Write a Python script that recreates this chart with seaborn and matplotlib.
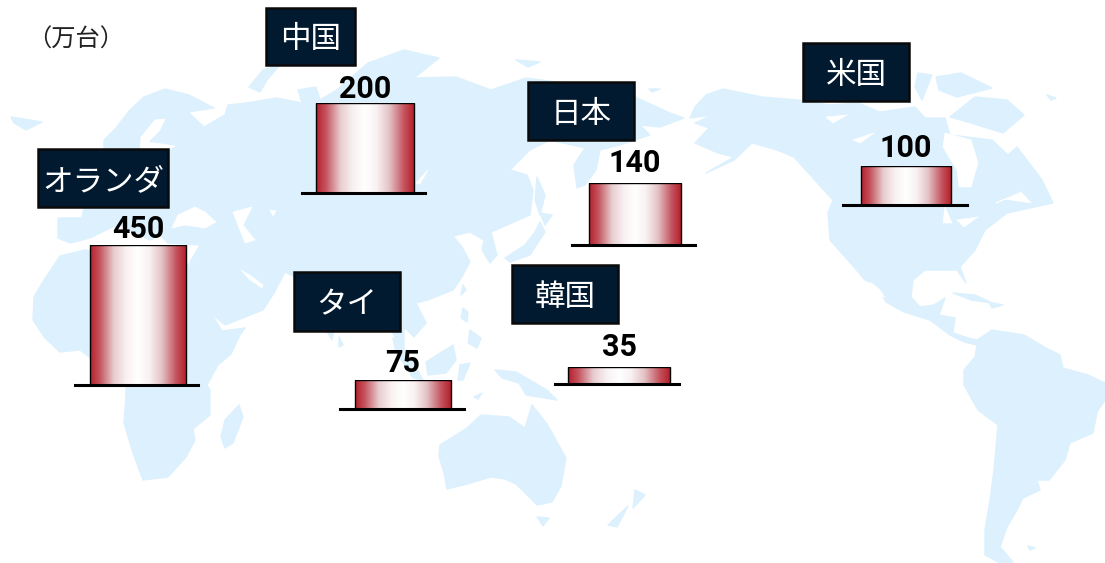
import numpy as np
import pandas as pd
import seaborn as sns
import matplotlib.pyplot as plt
from matplotlib.colors import LinearSegmentedColormap
from matplotlib.patches import Rectangle

sns.set_theme(style="white")
plt.rcParams['font.family'] = ['Noto Sans CJK JP', 'DejaVu Sans']

W, H = 1105, 563

# chart values
countries = ['オランダ', '中国', '日本', '米国', 'タイ', '韓国']
units = [450, 200, 140, 100, 75, 35]
unit_label = '（万台）'

# layout of the small bars, in pixels of the picture
base_left = [75, 302, 572, 843, 340, 555]
base_right = [198, 425, 695, 967, 464, 679]
base_y = [385, 193, 245, 205, 409, 384]
bar_left = [90, 316, 589, 861, 355, 568]
bar_right = [186, 414, 681, 951, 451, 670]
bar_top = [245, 103, 183, 166, 380, 367]
label_gap = [8, 5, 11, 10, 8, 12]
box_x0 = [38, 266, 528, 803, 294, 512]
box_x1 = [168, 355, 634, 909, 400, 618]
box_y0 = [149, 8, 82, 43, 272, 265]
box_y1 = [207, 65, 140, 101, 331, 323]

LAND = '#DCF1FD'
NAVY = '#021A30'

# background map outlines, traced by hand
eurasia = [(104, 140), (116, 128), (130, 110), (144, 97), (165, 89), (189, 95), (214, 108), (188, 112),
           (204, 127), (225, 115), (228, 105), (246, 103), (277, 98), (302, 103), (298, 90), (316, 87),
           (320, 100), (337, 90), (368, 63), (404, 50), (439, 58), (414, 78), (456, 77), (491, 90),
           (526, 78), (580, 85), (635, 97), (670, 113), (684, 118), (660, 127), (640, 125), (650, 135),
           (620, 145), (600, 150), (596, 170), (585, 185), (577, 188), (574, 165), (585, 148), (550, 140),
           (530, 150), (510, 170), (527, 175), (533, 190), (530, 215), (491, 232), (497, 255), (490, 263),
           (482, 250), (484, 240), (470, 232), (453, 236), (462, 247), (470, 262), (460, 280), (453, 290),
           (428, 300), (416, 303), (426, 323), (414, 337), (404, 327), (404, 353), (412, 377), (405, 360),
           (393, 333), (385, 300), (340, 300), (332, 340), (326, 330), (310, 285), (285, 272), (274, 293),
           (263, 310), (225, 325), (211, 313), (193, 280), (190, 262), (200, 245), (168, 243), (160, 235),
           (150, 240), (120, 225), (110, 228), (90, 238), (70, 243), (58, 238), (58, 218), (82, 218),
           (84, 207), (104, 148)]
africa = [(85, 250), (60, 256), (44, 280), (34, 297), (33, 320), (45, 338), (60, 352), (80, 350), (126, 385),
          (126, 395), (124, 423), (133, 453), (143, 480), (168, 477), (186, 457), (195, 440), (193, 429),
          (210, 415), (210, 390), (207, 385), (218, 365), (231, 354), (240, 335), (245, 328), (222, 331),
          (200, 295), (188, 264), (150, 258)]
america = [(695, 107), (706, 95), (723, 89), (762, 97), (798, 100), (830, 105), (858, 103), (880, 112),
           (915, 107), (925, 118), (945, 118), (950, 135), (992, 140), (1008, 155), (1017, 147), (1042, 180),
           (1053, 203), (1007, 213), (985, 230), (975, 250), (960, 267), (966, 283), (957, 270), (925, 270),
           (913, 280), (911, 297), (920, 307), (934, 305), (945, 298), (939, 315), (955, 318), (953, 333),
           (968, 338), (977, 340), (992, 330), (1024, 335), (1046, 348), (1060, 355), (1063, 368), (1088, 375),
           (1105, 383), (1105, 400), (1097, 412), (1093, 433), (1070, 443), (1065, 460), (1049, 480),
           (1037, 480), (1040, 490), (1023, 498), (1017, 510), (1007, 527), (1000, 547), (1013, 562),
           (1000, 563), (985, 555), (985, 530), (990, 500), (994, 470), (998, 425), (978, 410), (964, 385),
           (964, 370), (975, 357), (977, 345), (964, 342), (950, 335), (930, 320), (904, 312), (886, 302),
           (876, 285), (865, 280), (854, 267), (830, 240), (828, 213), (833, 200), (812, 177), (794, 157),
           (777, 150), (752, 143), (734, 160), (706, 173), (734, 157), (718, 153), (695, 143), (709, 128),
           (695, 123), (713, 115), (690, 118)]
australia = [(440, 445), (467, 428), (481, 415), (509, 417), (525, 428), (532, 405), (547, 424), (566, 458),
             (561, 486), (552, 502), (537, 505), (516, 484), (505, 479), (491, 477), (467, 484), (447, 489),
             (444, 473), (439, 456)]
islands = [
    [(11, 117), (42, 122), (26, 130), (14, 123)],
    [(239, 405), (243, 417), (233, 443), (225, 448), (221, 437), (225, 420)],
    [(249, 87), (263, 70), (280, 65), (267, 80), (260, 92)],
    [(516, 60), (540, 62), (528, 67)],
    [(649, 89), (660, 89), (652, 92)],
    [(537, 177), (545, 195), (540, 215), (535, 200)],
    [(540, 213), (552, 215), (545, 225)],
    [(540, 222), (545, 232), (530, 255), (510, 262), (505, 258), (525, 245), (535, 232)],
    [(339, 337), (343, 345), (339, 347)],
    [(463, 285), (466, 290), (461, 295)],
    [(463, 308), (468, 312), (467, 322), (461, 318)],
    [(470, 330), (481, 338), (477, 348), (468, 343)],
    [(426, 362), (453, 345), (456, 360), (446, 373), (428, 375)],
    [(460, 365), (470, 363), (463, 380), (458, 380)],
    [(393, 338), (410, 357), (423, 380), (414, 378), (396, 353)],
    [(495, 370), (516, 372), (547, 390), (557, 400), (526, 395), (519, 383), (502, 378)],
    [(474, 397), (482, 393), (478, 399)],
    [(537, 517), (549, 518), (543, 526)],
    [(635, 490), (645, 495), (633, 508)],
    [(628, 506), (617, 527), (608, 525)],
    [(950, 117), (975, 97), (1007, 100), (1024, 115), (1003, 133), (971, 123)],
    [(936, 77), (961, 73), (992, 88), (957, 97), (939, 90)],
    [(918, 73), (932, 75), (922, 100), (915, 87)],
    [(1047, 95), (1056, 98), (1051, 100)],
    [(953, 293), (975, 295), (992, 303), (971, 300)],
    [(989, 302), (1003, 305), (992, 308)],
    [(1028, 546), (1035, 548), (1030, 550)],
]
waters = [
    [(140, 150), (141, 137), (155, 120), (165, 119), (160, 130), (148, 142), (175, 146), (168, 150)],
    [(172, 228), (178, 215), (195, 207), (205, 212), (216, 222), (205, 228), (185, 225)],
    [(233, 212), (252, 207), (243, 225), (255, 240), (245, 243), (238, 225)],
    [(270, 210), (276, 211), (273, 216)],
    [(416, 183), (428, 170), (420, 184)],
    [(241, 270), (249, 279), (262, 288), (263, 285), (251, 276)],
    [(945, 133), (971, 140), (978, 163), (971, 187), (959, 187), (957, 170), (943, 147)],
    [(945, 207), (952, 223), (943, 223)],
    [(957, 220), (978, 217), (964, 227)],
    [(826, 117), (847, 115), (833, 123)],
    [(853, 140), (874, 133), (860, 143)],
    [(996, 203), (1021, 192), (1031, 203), (1005, 199)],
    [(870, 282), (880, 290), (885, 298), (874, 290)],
]

fig = plt.figure(figsize=(W / 100, H / 100), dpi=100)
ax = fig.add_axes([0, 0, 1, 1])
ax.set_xlim(0, W)
ax.set_ylim(H, 0)
ax.axis('off')

for shape in [eurasia, africa, america, australia] + islands:
    xs, ys = zip(*shape)
    ax.fill(xs, ys, color=LAND, lw=1, joinstyle='round', zorder=1)
for shape in waters:
    xs, ys = zip(*shape)
    ax.fill(xs, ys, color='white', lw=0.5, joinstyle='round', zorder=2)

# red edges fading to white in the middle of each bar
shade = LinearSegmentedColormap.from_list('shade', [
    (0.0, '#B5202B'), (0.1, '#C4545E'), (0.25, '#E8CDD0'), (0.38, '#F9F1F2'), (0.5, '#FFFFFF'),
    (0.62, '#F9F1F2'), (0.75, '#E3C2C6'), (0.9, '#C4545E'), (1.0, '#B5202B')])

for i, name in enumerate(countries):
    # label box
    ax.add_patch(Rectangle((box_x0[i], box_y0[i]), box_x1[i] - box_x0[i], box_y1[i] - box_y0[i],
                           facecolor=NAVY, edgecolor='#0A0A0A', lw=1.8, zorder=3))
    ax.text((box_x0[i] + box_x1[i]) / 2, (box_y0[i] + box_y1[i]) / 2 + 3.5, name, color='white', fontsize=22,
            ha='center', va='center', zorder=4)

    # one small axes per country, its bottom spine is the black line
    sub = fig.add_axes([base_left[i] / W, 1 - base_y[i] / H, (base_right[i] - base_left[i]) / W,
                        (base_y[i] - bar_top[i]) / H], zorder=5)
    sub.patch.set_alpha(0)
    df = pd.DataFrame({'country': [name], 'units': [units[i]]})
    sns.barplot(data=df, x='country', y='units', width=1, color='white', edgecolor='black', linewidth=1, ax=sub)
    bar_px = bar_right[i] - bar_left[i]
    mid = (bar_left[i] + bar_right[i]) / 2
    xlim = ((base_left[i] - mid) / bar_px, (base_right[i] - mid) / bar_px)
    bar = sub.patches[0]
    img = sub.imshow(np.linspace(0, 1, 256).reshape(1, -1), cmap=shade, aspect='auto', vmin=0, vmax=1,
                     extent=(-0.5, 0.5, 0, units[i]), zorder=bar.get_zorder() - 0.1)
    img.set_clip_path(bar)
    bar.set_facecolor('none')
    sub.set_xlim(xlim)
    sub.set_ylim(0, units[i])
    labels = sub.bar_label(sub.containers[0], padding=(label_gap[i] - 6.5) * 0.72, fontsize=22,
                           fontweight='bold', color='black', family=['Roboto', 'DejaVu Sans'])
    for t in labels:
        t.set_clip_on(False)
    sub.set_xlabel('')
    sub.set_ylabel('')
    sub.set_xticks([])
    sub.set_yticks([])
    sns.despine(ax=sub, left=True)
    sub.spines['bottom'].set_linewidth(2.2)
    sub.spines['bottom'].set_color('black')

ax.text(27, 40, unit_label, color='#222222', fontsize=17.5, ha='left', va='center', zorder=4)

fig.savefig('out.png', dpi=100)
